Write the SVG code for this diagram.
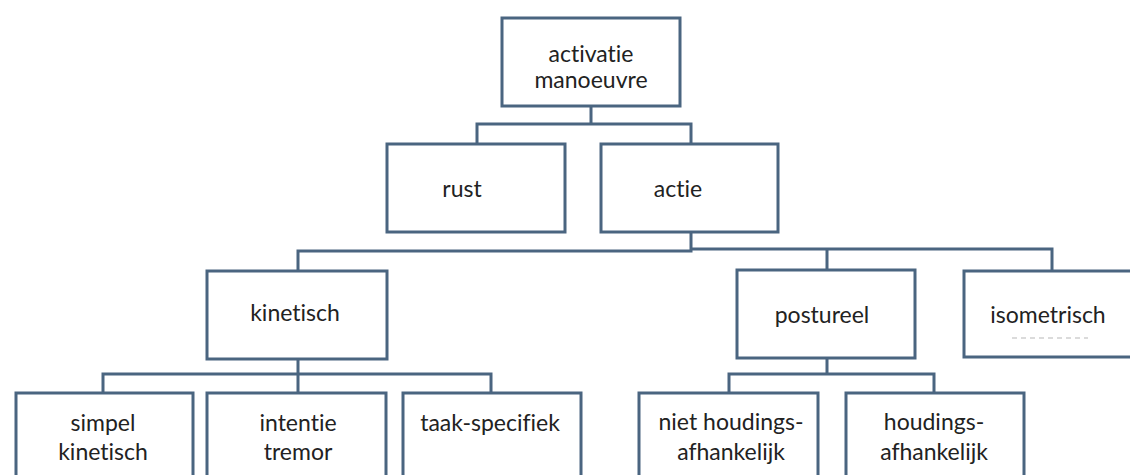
<svg xmlns="http://www.w3.org/2000/svg" width="1130" height="475" viewBox="0 0 1130 475">
<style>
.box{fill:#ffffff;stroke:#4a6580;stroke-width:3}
.ln{fill:none;stroke:#4a6580;stroke-width:3}
text{font-family:Lato,"Liberation Sans",sans-serif;font-size:23px;fill:#222222;text-anchor:middle;font-variant-ligatures:none}
</style>
<rect width="1130" height="475" fill="#ffffff"/>
<g id="connectors">
<path class="ln" d="M591,107 V124 M477,144 V124 H691 V144"/>
<path class="ln" d="M691,232 V251 H298 V271"/>
<path class="ln" d="M691,249 H1052 V271 M827,249 V270"/>
<path class="ln" d="M298,359 V374 M103,393 V374 H491 V393 M298,374 V393"/>
<path class="ln" d="M827,358 V374 M729,393 V374 H934 V393"/>
</g>
<g id="n-activatie"><rect class="box" x="502" y="18" width="178" height="88"/><text x="591" y="62">activatie</text><text x="591" y="88">manoeuvre</text></g>
<g id="n-rust"><rect class="box" x="387" y="144" width="178" height="88"/><text x="462" y="197">rust</text></g>
<g id="n-actie"><rect class="box" x="601" y="144" width="177" height="88"/><text x="678" y="197">actie</text></g>
<g id="n-kinetisch"><rect class="box" x="207" y="271" width="180" height="88"/><text x="295" y="321">kinetisch</text></g>
<g id="n-postureel"><rect class="box" x="737" y="270" width="178" height="88"/><text x="822" y="323">postureel</text></g>
<g id="n-isometrisch"><rect class="box" x="964" y="271" width="180" height="86"/><text x="1048" y="323">isometrisch</text><line x1="1012" y1="338" x2="1088" y2="338" stroke="#d0d0d0" stroke-width="1.5" stroke-dasharray="5 4"/></g>
<g id="n-simpel"><rect class="box" x="16" y="393" width="177" height="95"/><text x="103" y="431">simpel</text><text x="103" y="460">kinetisch</text></g>
<g id="n-intentie"><rect class="box" x="207" y="393" width="179" height="95"/><text x="298" y="431">intentie</text><text x="298" y="460">tremor</text></g>
<g id="n-taak"><rect class="box" x="403" y="393" width="178" height="95"/><text x="490" y="431">taak-specifiek</text></g>
<g id="n-niet"><rect class="box" x="639" y="393" width="179" height="95"/><text x="731" y="430">niet houdings-</text><text x="731" y="460">afhankelijk</text></g>
<g id="n-houdings"><rect class="box" x="846" y="393" width="178" height="95"/><text x="934" y="430">houdings-</text><text x="934" y="460">afhankelijk</text></g>
</svg>
